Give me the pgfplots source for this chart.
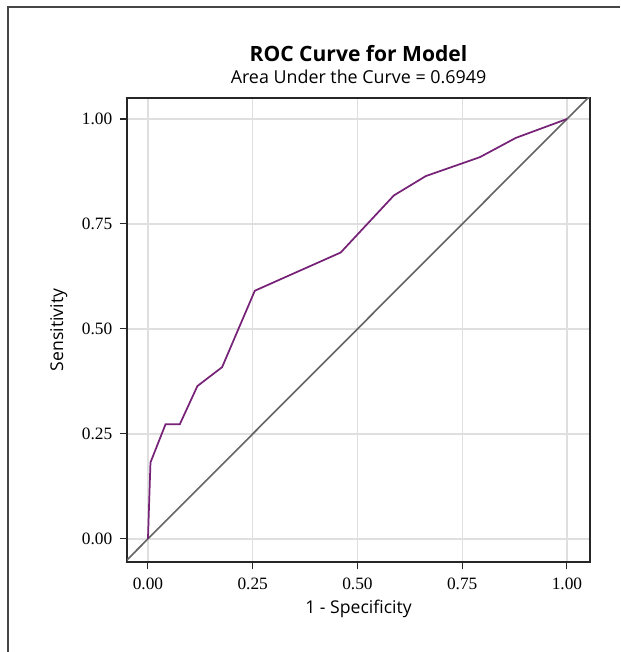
\documentclass[border=0pt]{standalone}
\usepackage{fontspec}
\setmainfont{Open Sans}
\newfontfamily\tickfont{Liberation Serif}
\usepackage{pgfplots}
\pgfplotsset{compat=1.18}
\definecolor{roc}{RGB}{118,34,118}
\definecolor{diag}{RGB}{100,100,100}
\definecolor{frame}{RGB}{70,70,70}
\begin{document}
\begin{tikzpicture}[x=0.75pt,y=0.75pt]
\useasboundingbox (0,0) rectangle (620,652);
% outer frame (top and left only, cut off at the page)
\draw[frame, line width=1.8pt] (8,0) -- (8,645) -- (620,645);
\begin{axis}[
  at={(127*0.75pt,90*0.75pt)}, anchor=south west,
  scale only axis, width=463*0.75pt, height=464*0.75pt,
  xmin=-0.05, xmax=1.055, ymin=-0.055, ymax=1.05,
  xtick={0,0.25,0.5,0.75,1}, ytick={0,0.25,0.5,0.75,1},
  xticklabels={0.00,0.25,0.50,0.75,1.00},
  yticklabels={0.00,0.25,0.50,0.75,1.00},
  tick align=outside, xtick pos=lower, ytick pos=left,
  major tick length=5.5pt,
  tick style={black!85, line width=0.8pt},
  axis line style={black!85, line width=1pt},
  grid=major, grid style={gray!25, line width=0.9pt},
  /pgf/number format/assume math mode=true,
  tick label style={font=\tickfont\fontsize{13}{15}\selectfont},
  xticklabel style={yshift=-3pt},
  yticklabel style={xshift=-2pt},
  xlabel={1 - Specificity}, ylabel={Sensitivity},
  label style={font=\fontsize{13.2}{15}\selectfont},
  xlabel style={yshift=-1pt},
  ylabel style={yshift=4pt},
  clip=true,
]
\addplot[diag, line width=1.2pt] coordinates {(-0.1,-0.1) (1.1,1.1)};
\addplot[roc, line width=1.3pt] coordinates {
 (0.000,0.000) (0.006,0.182) (0.042,0.273) (0.076,0.273)
 (0.118,0.364) (0.177,0.409) (0.255,0.591) (0.460,0.682)
 (0.587,0.818) (0.663,0.864) (0.792,0.909) (0.878,0.955)
 (1.000,1.000)
};
\end{axis}
\node[anchor=base, font=\bfseries\fontsize{15.8}{18}\selectfont] at (358.5,590) {ROC Curve for Model};
\node[anchor=base, font=\fontsize{13.4}{16}\selectfont] at (358.5,568) {Area Under the Curve = 0.6949};
\end{tikzpicture}
\end{document}
